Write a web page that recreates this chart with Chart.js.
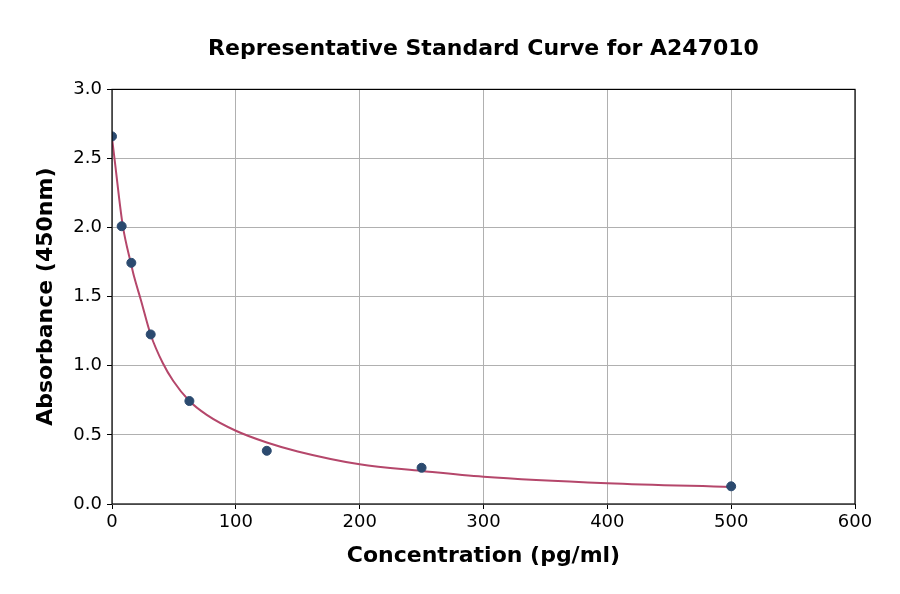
<!DOCTYPE html>
<html>
<head>
<meta charset="utf-8">
<script src="https://cdn.jsdelivr.net/npm/chart.js@4/dist/chart.umd.min.js"></script>
<style>
  html, body { margin: 0; padding: 0; background: #fff; }
  canvas { display: block; }
</style>
</head>
<body>
<canvas id="grafico" width="900" height="594"></canvas>
<script>
// puntos medidos (estandares)
const concentraciones = [0, 7.8, 15.6, 31.25, 62.5, 125, 250, 500];
const absorbancias = [2.66, 2.01, 1.745, 1.227, 0.745, 0.385, 0.262, 0.128];

// curva ajustada
const curvaX = [0, 2.4, 8.6, 15.6, 18, 23.2, 31.25, 41, 49.5, 62.5, 76.5, 100, 125, 150, 200, 250, 300, 400, 500];
const curvaY = [2.65, 2.47, 2.02, 1.73, 1.64, 1.48, 1.225, 1.02, 0.89, 0.745, 0.645, 0.53, 0.445, 0.38, 0.287, 0.239, 0.197, 0.15, 0.123];

const ticksX = [0, 100, 200, 300, 400, 500, 600];
const ticksY = [0.0, 0.5, 1.0, 1.5, 2.0, 2.5, 3.0];

const fuente = "'DejaVu Sans', sans-serif";

// marco completo alrededor del area del grafico
const marco = {
    id: 'marco',
    afterDatasetsDraw(chart) {
        const { ctx, chartArea: a } = chart;
        ctx.save();
        ctx.strokeStyle = '#000';
        ctx.lineWidth = 1.2;
        ctx.strokeRect(a.left, a.top, a.right - a.left, a.bottom - a.top);
        ctx.restore();
    }
};

const ctx = document.getElementById('grafico').getContext('2d');
new Chart(ctx, {
    type: 'scatter',
    data: {
        datasets: [
            {
                label: 'Curva',
                type: 'line',
                data: curvaX.map((x, i) => ({ x: x, y: curvaY[i] })),
                borderColor: '#b5476b',
                borderWidth: 2,
                pointRadius: 0,
                fill: false,
                cubicInterpolationMode: 'monotone',
                order: 2
            },
            {
                label: 'Estandares',
                data: concentraciones.map((x, i) => ({ x: x, y: absorbancias[i] })),
                backgroundColor: '#2b4a6f',
                borderColor: '#2b4a6f',
                pointRadius: 4.5,
                order: 1
            }
        ]
    },
    options: {
        responsive: false,
        animation: false,
        devicePixelRatio: 1,
        layout: { padding: { left: 0, right: 45, top: 0, bottom: 0 } },
        plugins: {
            legend: { display: false },
            tooltip: { enabled: false },
            title: {
                display: true,
                fullSize: false,
                text: 'Representative Standard Curve for A247010',
                color: '#000',
                font: { family: fuente, size: 22, weight: 'bold' },
                padding: { top: 36, bottom: 27 }
            }
        },
        scales: {
            x: {
                type: 'linear',
                min: 0,
                max: 600,
                afterBuildTicks: s => { s.ticks = ticksX.map(v => ({ value: v })); },
                afterFit: s => { s.height = 90; },
                ticks: {
                    color: '#000',
                    font: { family: fuente, size: 18 },
                    padding: 3,
                    maxRotation: 0
                },
                grid: { color: '#b0b0b0', lineWidth: 1, tickLength: 5, tickColor: '#000' },
                border: { display: false },
                title: {
                    display: true,
                    text: 'Concentration (pg/ml)',
                    color: '#000',
                    font: { family: fuente, size: 22, weight: 'bold' },
                    padding: { top: 0, bottom: 25 }
                }
            },
            y: {
                type: 'linear',
                min: 0,
                max: 3,
                afterBuildTicks: s => { s.ticks = ticksY.map(v => ({ value: v })); },
                afterFit: s => { s.width = 112; },
                ticks: {
                    color: '#000',
                    font: { family: fuente, size: 18 },
                    padding: 5,
                    callback: v => Number(v).toFixed(1)
                },
                grid: { color: '#b0b0b0', lineWidth: 1, tickLength: 5, tickColor: '#000' },
                border: { display: false },
                title: {
                    display: true,
                    text: 'Absorbance (450nm)',
                    color: '#000',
                    font: { family: fuente, size: 22, weight: 'bold' },
                    padding: { top: 33, bottom: 0 }
                }
            }
        }
    },
    plugins: [marco]
});
</script>
</body>
</html>
